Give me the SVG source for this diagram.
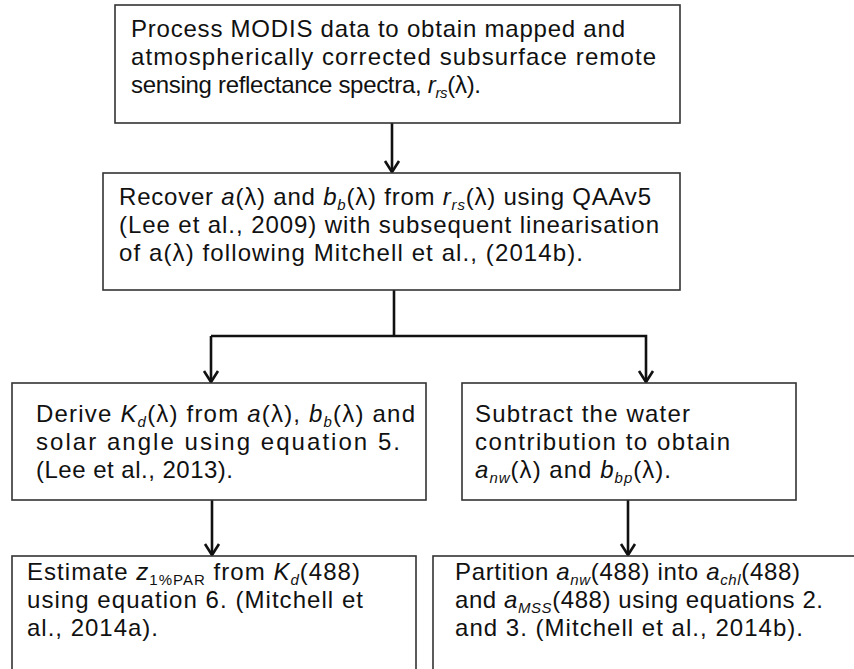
<svg xmlns="http://www.w3.org/2000/svg" width="854" height="669" viewBox="0 0 854 669">
<style>
.box{fill:#fff;stroke:#333;stroke-width:1.6}
.t{font-family:"Liberation Sans",Arial,sans-serif;font-size:24px;fill:#111}
.i{font-style:italic}
.s{font-size:15px}
.c{fill:none;stroke:#111;stroke-width:2.6}
</style>
<defs>
<marker id="arr" markerUnits="userSpaceOnUse" markerWidth="24" markerHeight="24" viewBox="-12 -12 24 24" refX="0" refY="0" orient="auto">
<path d="M-11,-7 L0,0 L-11,7" fill="none" stroke="#111" stroke-width="2.6"/>
</marker>
</defs>
<rect width="854" height="669" fill="#fff"/>
<g id="connectors">
<line class="c" x1="392" y1="123" x2="392" y2="172" marker-end="url(#arr)"/>
<polyline class="c" points="394,290 394,336"/>
<polyline class="c" points="211,336 646,336 646,382" marker-end="url(#arr)"/>
<line class="c" x1="211" y1="336" x2="211" y2="382" marker-end="url(#arr)"/>
<line class="c" x1="212" y1="500" x2="212" y2="555" marker-end="url(#arr)"/>
<line class="c" x1="628" y1="500" x2="628" y2="555" marker-end="url(#arr)"/>
</g>
<g id="n1">
<rect class="box" x="115" y="5" width="565" height="118"/>
<text class="t" x="131" y="37" textLength="494" lengthAdjust="spacing">Process MODIS data to obtain mapped and</text>
<text class="t" x="131" y="65" textLength="525" lengthAdjust="spacing">atmospherically corrected subsurface remote</text>
<text class="t" x="131" y="93" textLength="350" lengthAdjust="spacing">sensing reflectance spectra,  <tspan class="i">r</tspan><tspan class="i s" dy="5">rs</tspan><tspan dy="-5">(λ).</tspan></text>
</g>
<g id="n2">
<rect class="box" x="103" y="173" width="577" height="117"/>
<text class="t" x="119" y="205" textLength="532" lengthAdjust="spacing">Recover <tspan class="i">a</tspan>(λ) and <tspan class="i">b</tspan><tspan class="i s" dy="5">b</tspan><tspan dy="-5">(λ) from </tspan><tspan class="i">r</tspan><tspan class="i s" dy="5">rs</tspan><tspan dy="-5">(λ) using QAAv5</tspan></text>
<text class="t" x="119" y="233" textLength="540" lengthAdjust="spacing">(Lee et al., 2009) with subsequent linearisation</text>
<text class="t" x="119" y="261" textLength="464" lengthAdjust="spacing">of a(λ) following Mitchell et al., (2014b).</text>
</g>
<g id="n3">
<rect class="box" x="12" y="383" width="414" height="117"/>
<text class="t" x="36" y="422" textLength="379" lengthAdjust="spacing">Derive <tspan class="i">K</tspan><tspan class="i s" dy="5">d</tspan><tspan dy="-5">(λ) from </tspan><tspan class="i">a</tspan>(λ), <tspan class="i">b</tspan><tspan class="i s" dy="5">b</tspan><tspan dy="-5">(λ) and</tspan></text>
<text class="t" x="36" y="450" textLength="364" lengthAdjust="spacing">solar angle using equation 5.</text>
<text class="t" x="36" y="478" textLength="197" lengthAdjust="spacing">(Lee et al., 2013).</text>
</g>
<g id="n4">
<rect class="box" x="462" y="383" width="334" height="117"/>
<text class="t" x="475" y="422" textLength="215" lengthAdjust="spacing">Subtract the water</text>
<text class="t" x="475" y="450" textLength="255" lengthAdjust="spacing">contribution to obtain</text>
<text class="t" x="475" y="478" textLength="196" lengthAdjust="spacing"><tspan class="i">a</tspan><tspan class="i s" dy="5">nw</tspan><tspan dy="-5">(λ) and </tspan><tspan class="i">b</tspan><tspan class="i s" dy="5">bp</tspan><tspan dy="-5">(λ).</tspan></text>
</g>
<g id="n5">
<rect class="box" x="12" y="556" width="404" height="125"/>
<text class="t" x="27" y="580" textLength="333" lengthAdjust="spacing">Estimate <tspan class="i">z</tspan><tspan class="s" dy="5">1%PAR</tspan><tspan dy="-5">  from </tspan><tspan class="i">K</tspan><tspan class="i s" dy="5">d</tspan><tspan dy="-5">(488)</tspan></text>
<text class="t" x="27" y="608" textLength="336" lengthAdjust="spacing">using equation  6. (Mitchell et</text>
<text class="t" x="27" y="636" textLength="131" lengthAdjust="spacing">al., 2014a).</text>
</g>
<g id="n6">
<rect class="box" x="433" y="556" width="440" height="125"/>
<text class="t" x="455" y="580" textLength="345" lengthAdjust="spacing">Partition <tspan class="i">a</tspan><tspan class="i s" dy="5">nw</tspan><tspan dy="-5">(488) into </tspan><tspan class="i">a</tspan><tspan class="i s" dy="5">chl</tspan><tspan dy="-5">(488)</tspan></text>
<text class="t" x="455" y="608" textLength="368" lengthAdjust="spacing">and <tspan class="i">a</tspan><tspan class="i s" dy="5">MSS</tspan><tspan dy="-5">(488) using equations 2.</tspan></text>
<text class="t" x="455" y="636" textLength="348" lengthAdjust="spacing">and 3. (Mitchell et al., 2014b).</text>
</g>
</svg>
